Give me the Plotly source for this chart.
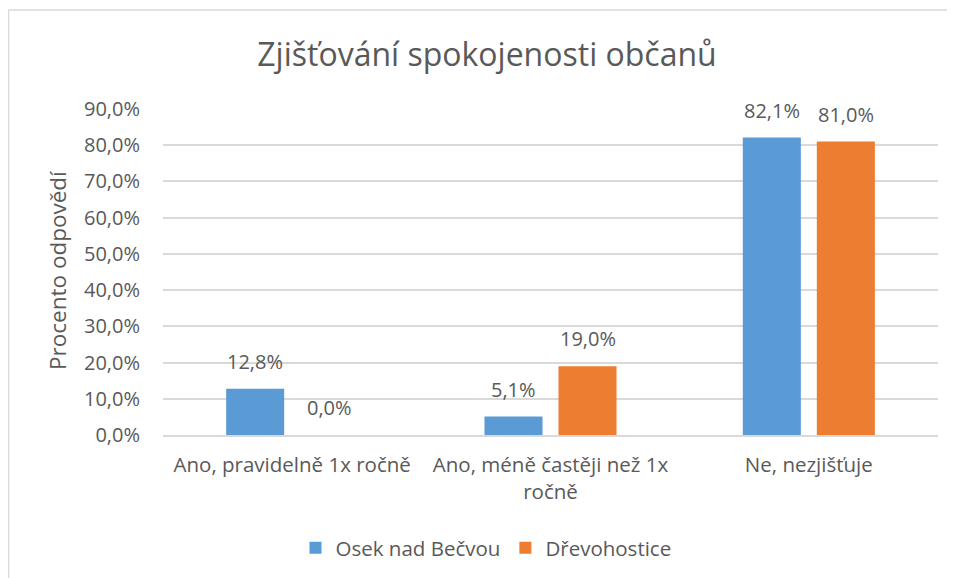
import plotly.graph_objects as go

categories = ["Ano, pravidelně 1x ročně", "Ano, méně častěji než 1x<br>ročně", "Ne, nezjišťuje"]
series_names = ["Osek nad Bečvou", "Dřevohostice"]
osek = [12.8, 5.1, 82.1]
drevo = [0.0, 19.0, 81.0]
y_ticks = [0, 10, 20, 30, 40, 50, 60, 70, 80, 90]
y_ticktext = [f"{v:.1f}%".replace(".", ",") for v in y_ticks]
y_title = "Procento odpovědí"
chart_title = "Zjišťování spokojenosti občanů"
colors = ["#5B9BD5", "#ED7D31"]

FONT = "Open Sans, sans-serif"
TXT = "#595959"

# body margin of the page is 8px, so work in reference coords minus 8
OFF = 8
W, H = 955 - OFF, 578 - OFF
L, R = 163 - OFF, 938 - OFF
T, B = 109 - OFF, 435 - OFF
pw, ph = R - L, B - T
def px(x):
    return (x - L) / pw
def py(y):
    return (B - y) / ph

fig = go.Figure()
for name, vals, col in zip(series_names, [osek, drevo], colors):
    fig.add_trace(go.Bar(x=categories, y=vals, name=name, marker_color=col,
                         marker_line_width=0))

annotations = []
for j, vals in enumerate([osek, drevo]):
    for i, v in enumerate(vals):
        annotations.append(dict(
            x=categories[i], y=v, xref="x", yref="y",
            text=f"{v:.1f}%".replace(".", ","),
            showarrow=False, yanchor="bottom", xanchor="center",
            xshift=(j - 0.5) * 74, yshift=12,
            font=dict(family=FONT, size=20, color=TXT)))

# y-axis title
annotations.append(dict(
    text=y_title, xref="paper", yref="paper", x=px(57 - OFF), y=py(270 - OFF),
    xanchor="center", yanchor="middle", textangle=-90, showarrow=False,
    font=dict(family=FONT, size=22.5, color=TXT)))

shapes = [
    dict(type="line", xref="paper", yref="paper", x0=px(0.5), x1=px(W + 5), y0=py(2), y1=py(2),
         line=dict(color="#d9d9d9", width=1.5)),
    dict(type="line", xref="paper", yref="paper", x0=px(0.5), x1=px(0.5), y0=py(2), y1=py(H + 5),
         line=dict(color="#d9d9d9", width=1.5)),
]

fig.update_layout(
    width=W, height=H,
    margin=dict(l=L, r=W - R, t=T, b=H - B, autoexpand=False),
    paper_bgcolor="white", plot_bgcolor="white",
    barmode="group", bargap=0.427, bargroupgap=0.216,
    font=dict(family=FONT, color=TXT, size=20),
    title=dict(text=chart_title, x=px(487 - OFF), xref="paper", xanchor="center",
               y=1 - (55 - OFF) / H, yanchor="middle",
               font=dict(family=FONT, size=32, color=TXT)),
    xaxis=dict(showgrid=False, showline=True, linecolor="#d9d9d9", linewidth=1.5,
               ticks="", tickfont=dict(size=20.5, color=TXT), ticklabelstandoff=11),
    yaxis=dict(range=[0, 90], tickmode="array", tickvals=y_ticks, ticktext=y_ticktext,
               showgrid=True, gridcolor="#d9d9d9", gridwidth=1.5, zeroline=False,
               showline=False, ticks="", tickfont=dict(size=20, color=TXT), ticklabelstandoff=22),
    legend=dict(orientation="h", x=px(486 - OFF), xanchor="center", y=py(548 - OFF), yanchor="middle",
                font=dict(size=20.5, color=TXT), itemwidth=30, traceorder="normal"),
    annotations=annotations,
    shapes=shapes,
)

fig.write_html("out.html")
